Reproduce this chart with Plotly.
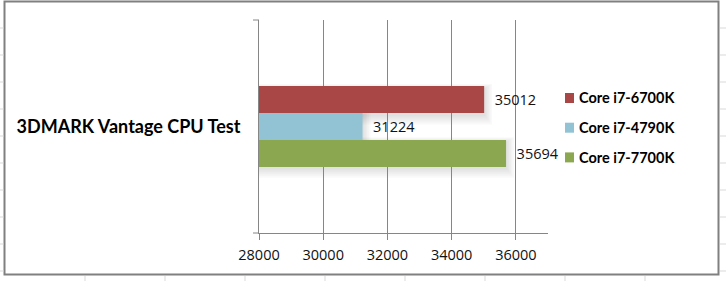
import plotly.graph_objects as go

category = ["3DMARK Vantage CPU Test"]
series = ["Core i7-6700K", "Core i7-4790K", "Core i7-7700K"]
values = [35012, 31224, 35694]
colors = ["#A94646", "#92C3D5", "#8BA74F"]
tick_vals = [28000, 30000, 32000, 34000, 36000]

W, H = 726, 281
L, R, T, B = 259, 548, 20, 233
XMIN, XMAX = 28000, 37000

def px(x):
    return (x - L) / (R - L)

def py(y):
    return (B - y) / (B - T)

fig = go.Figure()
for name, v, c in zip(series, values, colors):
    fig.add_trace(go.Bar(
        y=category, x=[v], name=name, orientation="h", showlegend=False,
        marker=dict(color=c, line=dict(width=0)),
        text=["\u00a0\u00a0" + str(v)], textposition="outside",
        textfont=dict(family="Open Sans, Lato", size=14.5, color="#111"),
        cliponaxis=False,
    ))

shapes = []
annotations = []
# soft drop shadow behind the bar group (approximated by stacked translucent rects)
bar_px_top, bar_px_h = 86, 26.6
for i, v in enumerate(values):
    y_top = bar_px_top + i * bar_px_h
    y_bot = y_top + bar_px_h
    x_end_px = L + (v - XMIN) / (XMAX - XMIN) * (R - L)
    for pad in [2, 4, 6, 8, 10]:
        shapes.append(dict(type="rect", xref="paper", yref="paper",
                           x0=px(L), x1=px(x_end_px + pad * 0.8),
                           y0=py(y_bot + pad + 2), y1=py(y_top - pad * 0.5 + 3),
                           fillcolor="rgba(0,0,0,0.022)", line=dict(width=0), layer="below"))
# legend (drawn manually to match the tight symbol/text spacing)
for i, (name, c) in enumerate(zip(series, colors)):
    yc = 98 + 29.7 * i
    shapes.append(dict(type="rect", xref="paper", yref="paper",
                       x0=px(565), x1=px(574), y0=py(yc + 5), y1=py(yc - 5),
                       fillcolor=c, line=dict(width=0)))
    annotations.append(dict(xref="paper", yref="paper", x=px(577), y=py(yc),
                            xanchor="left", yanchor="middle", showarrow=False,
                            text="<b>%s</b>" % name,
                            font=dict(family="Lato, Open Sans", size=14.5, color="#000")))
# chart frame
shapes.append(dict(type="rect", xref="paper", yref="paper",
                   x0=px(4.5), x1=px(718.5), y0=py(274.5), y1=py(1.5),
                   line=dict(color="#808080", width=2), layer="below"))
# spreadsheet grid bits outside frame
for gx in [85, 165, 245, 325, 405, 485, 565, 645]:
    shapes.append(dict(type="line", xref="paper", yref="paper",
                       x0=px(gx), x1=px(gx), y0=py(276), y1=py(281),
                       line=dict(color="#D9D9D9", width=1)))
for gy in [28, 55, 82, 109, 136, 163, 190, 217, 244, 271]:
    shapes.append(dict(type="line", xref="paper", yref="paper",
                       x0=px(0), x1=px(3.5), y0=py(gy), y1=py(gy),
                       line=dict(color="#D9D9D9", width=1)))
    shapes.append(dict(type="line", xref="paper", yref="paper",
                       x0=px(720), x1=px(726), y0=py(gy), y1=py(gy),
                       line=dict(color="#D9D9D9", width=1)))
# y-axis tick marks
for yy in [T, B]:
    shapes.append(dict(type="line", xref="paper", yref="paper",
                       x0=px(253), x1=px(259), y0=py(yy), y1=py(yy),
                       line=dict(color="#868686", width=1)))

fig.update_layout(
    width=W, height=H,
    margin=dict(l=L, r=W - R, t=T, b=H - B),
    paper_bgcolor="white", plot_bgcolor="white",
    barmode="group", bargap=0.62,
    font=dict(family="Open Sans, Lato", color="#000"),
    showlegend=False,
    shapes=shapes,
    annotations=annotations,
    xaxis=dict(range=[XMIN, XMAX], tickvals=tick_vals,
               ticktext=[str(t) for t in tick_vals],
               showgrid=True, gridcolor="#868686", gridwidth=1,
               showline=True, linecolor="#868686", linewidth=1,
               ticks="outside", ticklen=6, tickcolor="#868686",
               ticklabelstandoff=3,
               tickfont=dict(family="Open Sans, Lato", size=14.5, color="#111"),
               zeroline=False, fixedrange=True),
    yaxis=dict(autorange="reversed", showline=True, linecolor="#868686", linewidth=1,
               ticks="", tickfont=dict(family="Lato, Open Sans", size=18, color="#000", weight="bold"),
               ticklabelstandoff=14, showgrid=False, fixedrange=True),
)

fig.write_html("out.html")
